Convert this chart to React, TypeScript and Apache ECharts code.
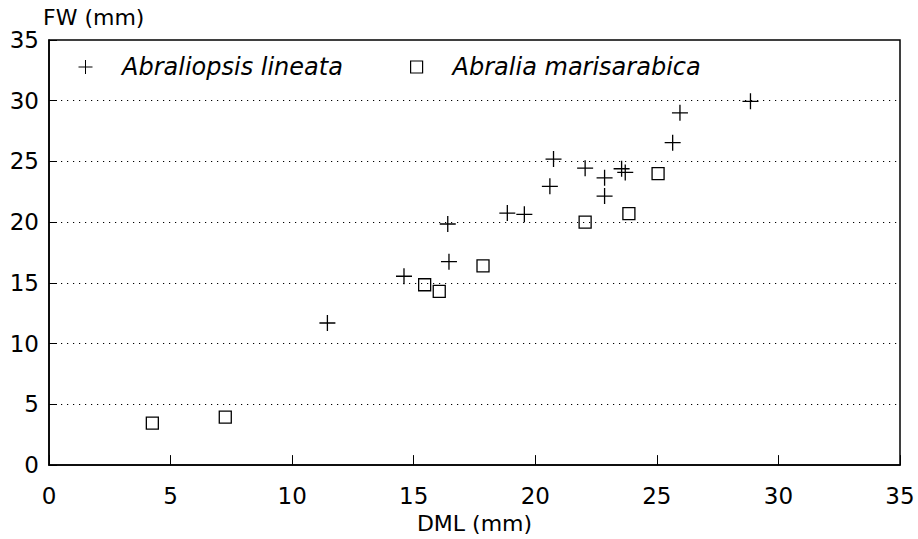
import React, { useEffect, useRef } from "react";
import * as echarts from "echarts";

const xTicks = [0, 5, 10, 15, 20, 25, 30, 35];
const yTicks = [0, 5, 10, 15, 20, 25, 30, 35];

const seriesNames = ["Abraliopsis lineata", "Abralia marisarabica"];

// DML (mm), FW (mm)
const lineataDML = [11.45, 14.6, 16.4, 16.45, 18.85, 19.55, 20.6, 20.75, 22.05, 22.85, 22.85, 23.55, 23.7, 25.65, 25.95, 28.85];
const lineataFW = [11.7, 15.55, 19.85, 16.75, 20.75, 20.65, 22.95, 25.2, 24.45, 23.65, 22.15, 24.4, 24.1, 26.55, 29.0, 29.95];

const marisDML = [4.25, 7.25, 15.45, 16.05, 17.85, 22.05, 23.85, 25.05];
const marisFW = [3.45, 3.95, 14.85, 14.3, 16.4, 20.0, 20.7, 24.0];

const FONT = "DejaVu Sans";
const CROSS = "path://M0,8L16,8M8,0L8,16";

export default function App() {
  const ref = useRef<HTMLDivElement>(null);
  useEffect(() => {
    if (!ref.current) return;
    const chart = echarts.init(ref.current, undefined, { renderer: "svg" });
    const lineata = lineataDML.map((x, i) => [x, lineataFW[i]]);
    const maris = marisDML.map((x, i) => [x, marisFW[i]]);
    chart.setOption({
      animation: false,
      backgroundColor: "#fff",
      textStyle: { fontFamily: FONT, color: "#000" },
      grid: {
        left: 49,
        top: 40,
        width: 851,
        height: 432,
        show: true,
        borderColor: "#000",
        borderWidth: 1.5,
        backgroundColor: "transparent",
      },
      legend: [
        {
          data: [{ name: seriesNames[0], icon: CROSS }],
          left: 78,
          top: 55,
          padding: 0,
          itemWidth: 15,
          itemHeight: 14,
          itemStyle: { color: "transparent", borderColor: "#000", borderWidth: 1 },
          textStyle: { fontFamily: FONT, fontSize: 24, fontStyle: "italic", color: "#000", padding: [4, 0, 0, 24] },
        },
        {
          data: [{ name: seriesNames[1], icon: "rect" }],
          left: 410,
          top: 55,
          padding: 0,
          itemWidth: 12,
          itemHeight: 12,
          itemStyle: { color: "transparent", borderColor: "#000", borderWidth: 1.2 },
          textStyle: { fontFamily: FONT, fontSize: 24, fontStyle: "italic", color: "#000", padding: [4, 0, 0, 25] },
        },
      ],
      xAxis: {
        type: "value",
        min: xTicks[0],
        max: xTicks[xTicks.length - 1],
        interval: 5,
        name: "DML (mm)",
        nameLocation: "middle",
        nameGap: 56,
        nameTextStyle: { fontFamily: FONT, fontSize: 22, color: "#000", verticalAlign: "middle" },
        axisLine: { lineStyle: { color: "#000", width: 1.5 } },
        axisTick: { inside: true, length: 10, lineStyle: { color: "#000", width: 1 } },
        axisLabel: { fontFamily: FONT, fontSize: 23, color: "#000", margin: 19 },
        splitLine: { show: false },
      },
      yAxis: {
        type: "value",
        min: yTicks[0],
        max: yTicks[yTicks.length - 1],
        interval: 5,
        name: "FW (mm)",
        nameLocation: "end",
        nameGap: 19,
        nameTextStyle: { fontFamily: FONT, fontSize: 22, color: "#000", align: "left", verticalAlign: "middle", padding: [0, 0, 0, -6] },
        axisLine: { lineStyle: { color: "#000", width: 1.5 } },
        axisTick: { inside: true, length: 8, lineStyle: { color: "#000", width: 1 } },
        axisLabel: { fontFamily: FONT, fontSize: 23, color: "#000", margin: 10 },
        splitLine: {
          show: true,
          showMinLine: false,
          showMaxLine: false,
          lineStyle: { color: "#000", width: 1.2, type: [1.2, 4.8] },
        },
      },
      series: [
        {
          name: seriesNames[0],
          type: "scatter",
          symbol: CROSS,
          symbolSize: 16,
          itemStyle: { color: "transparent", borderColor: "#000", borderWidth: 1.3, opacity: 1 },
          data: lineata,
        },
        {
          name: seriesNames[1],
          type: "scatter",
          symbol: "rect",
          symbolSize: 12,
          itemStyle: { color: "transparent", borderColor: "#000", borderWidth: 1.3, opacity: 1 },
          data: maris,
        },
      ],
    });
    return () => chart.dispose();
  }, []);
  return (
    <div
      ref={ref}
      style={{ position: "fixed", left: 0, top: 0, width: 918, height: 539, background: "#fff" }}
    />
  );
}
